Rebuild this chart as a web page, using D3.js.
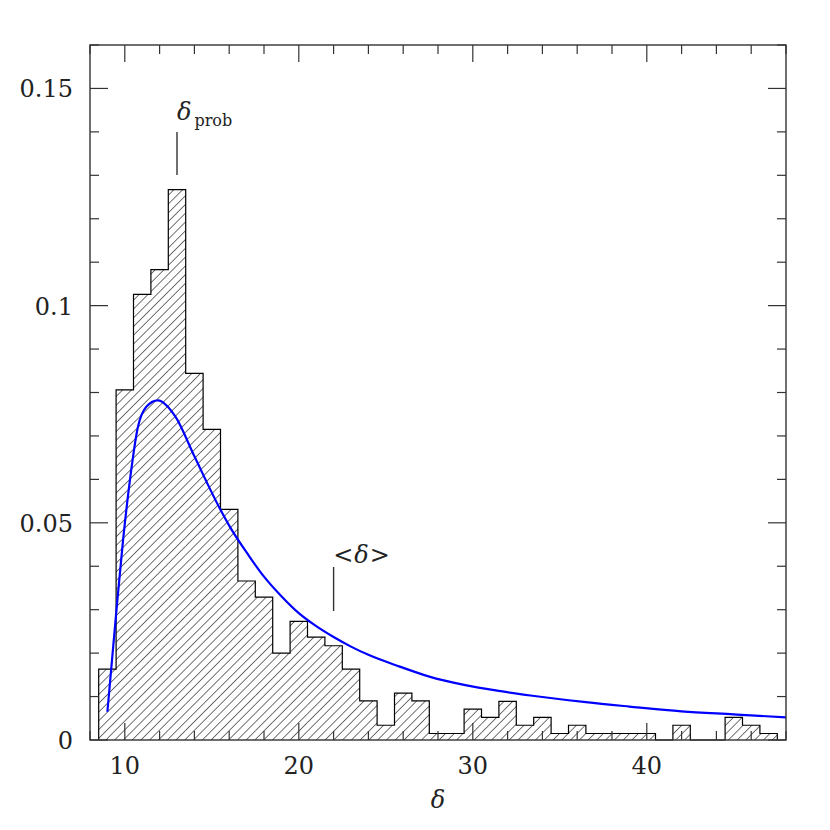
<!DOCTYPE html>
<html>
<head>
<meta charset="utf-8">
<script src="https://cdn.jsdelivr.net/npm/d3@7"></script>
<style>
  body { margin: 0; background: #fff; }
  text { font-family: "DejaVu Serif", serif; fill: #222; }
</style>
</head>
<body>
<div id="chart"></div>
<script>
// histogram bins (centre of each unit-wide bin) and their heights
var binCenters = [9, 10, 11, 12, 13, 14, 15, 16, 17, 18, 19, 20, 21, 22, 23, 24, 25, 26, 27, 28,
    29, 30, 31, 32, 33, 34, 35, 36, 37, 38, 39, 40, 41, 42, 43, 44, 45, 46, 47];
var binValues = [0.0163, 0.0806, 0.1026, 0.1083, 0.1267, 0.0844, 0.0715, 0.0531, 0.0366, 0.0329,
    0.0200, 0.0273, 0.0237, 0.0217, 0.0163, 0.0090, 0.0034, 0.0108, 0.0090, 0.0015,
    0.0015, 0.0071, 0.0052, 0.0089, 0.0034, 0.0052, 0.0015, 0.0034, 0.0015, 0.0015,
    0.0015, 0.0015, 0, 0.0034, 0, 0, 0.0052, 0.0034, 0.0015];

// fitted curve (blue)
var curveX = [9.0, 9.5, 9.9, 10.3, 10.75, 11.25, 11.9, 12.9, 14.0, 15.5, 16.05, 17.1, 18.0, 19,
    20, 21, 22, 23, 24, 25.8, 27.5, 29.5, 31.5, 34, 36.5, 39, 42, 45, 48];
var curveY = [0.0065, 0.029, 0.046, 0.060, 0.072, 0.0768, 0.0782, 0.0745, 0.0653, 0.0530, 0.049,
    0.0426, 0.0376, 0.0331, 0.0292, 0.0262, 0.0237, 0.0215, 0.0196, 0.0169, 0.0146, 0.0127,
    0.0113, 0.0099, 0.0087, 0.0077, 0.0066, 0.0059, 0.0052];

var xTicks = [10, 20, 30, 40];
var yTicks = [0, 0.05, 0.1, 0.15];
var deltaProb = 13, deltaMean = 22;

var margin = { top: 45, right: 44, bottom: 90, left: 90 },
    width = 830 - margin.left - margin.right,
    height = 830 - margin.top - margin.bottom;

var svg = d3.select("#chart")
    .append("svg")
    .attr("width", 830)
    .attr("height", 830)
    .append("g")
    .attr("transform", "translate(" + margin.left + "," + margin.top + ")");

var x = d3.scaleLinear().domain([8, 48]).range([0, width]);
var y = d3.scaleLinear().domain([0, 0.16]).range([height, 0]);

// hatch pattern
var defs = svg.append("defs");
defs.append("pattern")
    .attr("id", "hatch")
    .attr("patternUnits", "userSpaceOnUse")
    .attr("width", 6.2)
    .attr("height", 6.2)
    .attr("patternTransform", "rotate(45)")
    .append("line")
    .attr("x1", 0).attr("y1", 0)
    .attr("x2", 0).attr("y2", 6.2)
    .attr("stroke", "#000")
    .attr("stroke-width", 1.1);

var bins = binCenters.map(function (c, i) {
    return { x0: c - 0.5, x1: c + 0.5, v: binValues[i] };
});

svg.selectAll("rect.bar")
    .data(bins)
    .enter()
    .append("rect")
    .attr("class", "bar")
    .attr("x", function (d) { return x(d.x0); })
    .attr("width", function (d) { return x(d.x1) - x(d.x0); })
    .attr("y", function (d) { return y(d.v); })
    .attr("height", function (d) { return height - y(d.v); })
    .style("fill", "url(#hatch)");

// outline of the histogram as a step line
var steps = [[bins[0].x0, 0]];
bins.forEach(function (d) {
    steps.push([d.x0, d.v]);
    steps.push([d.x1, d.v]);
});
steps.push([bins[bins.length - 1].x1, 0]);
svg.append("path")
    .datum(steps)
    .attr("fill", "none")
    .attr("stroke", "#000")
    .attr("stroke-width", 1.2)
    .attr("d", d3.line()
        .x(function (d) { return x(d[0]); })
        .y(function (d) { return y(d[1]); }));

// blue curve
svg.append("path")
    .datum(curveX.map(function (v, i) { return [v, curveY[i]]; }))
    .attr("fill", "none")
    .attr("stroke", "#0000ff")
    .attr("stroke-width", 2.2)
    .attr("d", d3.line()
        .curve(d3.curveMonotoneX)
        .x(function (d) { return x(d[0]); })
        .y(function (d) { return y(d[1]); }));

// axes: inward ticks on all four sides
var frameColor = "#333";
function xAxis(g, dir) {
    var minor = d3.range(8, 48.1, 2);
    g.selectAll("line.t")
        .data(minor)
        .enter()
        .append("line")
        .attr("x1", function (d) { return x(d); })
        .attr("x2", function (d) { return x(d); })
        .attr("y1", 0)
        .attr("y2", function (d) { return dir * (d % 10 === 0 ? 17 : 9); })
        .attr("stroke", frameColor)
        .attr("stroke-width", 1.2);
}
function yAxis(g, dir) {
    var minor = d3.range(0, 0.1601, 0.01);
    g.selectAll("line.t")
        .data(minor)
        .enter()
        .append("line")
        .attr("y1", function (d) { return y(d); })
        .attr("y2", function (d) { return y(d); })
        .attr("x1", 0)
        .attr("x2", function (d) { return dir * (Math.abs(d * 100 % 5) < 0.01 || Math.abs(d * 100 % 5 - 5) < 0.01 ? 18 : 9); })
        .attr("stroke", frameColor)
        .attr("stroke-width", 1.2);
}
svg.append("g").attr("transform", "translate(0," + height + ")").call(xAxis, -1);
svg.append("g").call(xAxis, 1);
svg.append("g").call(yAxis, 1);
svg.append("g").attr("transform", "translate(" + width + ",0)").call(yAxis, -1);

svg.append("rect")
    .attr("width", width)
    .attr("height", height)
    .attr("fill", "none")
    .attr("stroke", frameColor)
    .attr("stroke-width", 1.4);

// tick labels
svg.selectAll("text.xl")
    .data(xTicks)
    .enter()
    .append("text")
    .attr("x", function (d) { return x(d); })
    .attr("y", height + 34)
    .attr("text-anchor", "middle")
    .style("font-size", "24px")
    .text(function (d) { return d; });

svg.selectAll("text.yl")
    .data(yTicks)
    .enter()
    .append("text")
    .attr("x", -17)
    .attr("y", function (d) { return y(d) + 9; })
    .attr("text-anchor", "end")
    .style("font-size", "24px")
    .text(function (d) { return d; });

// axis title
svg.append("text")
    .attr("x", width / 2)
    .attr("y", height + 68)
    .attr("text-anchor", "middle")
    .style("font-size", "24px")
    .style("font-style", "italic")
    .text("δ");

// markers for delta_prob and <delta>
svg.append("line")
    .attr("x1", x(deltaProb)).attr("x2", x(deltaProb))
    .attr("y1", 87).attr("y2", 130)
    .attr("stroke", "#333").attr("stroke-width", 1.4);
var tp = svg.append("text")
    .attr("x", x(deltaProb))
    .attr("y", 75)
    .style("font-size", "24px");
tp.append("tspan").style("font-style", "italic").text("δ");
tp.append("tspan").attr("dx", 3).attr("dy", 6).style("font-size", "16px").text("prob");

svg.append("line")
    .attr("x1", x(deltaMean)).attr("x2", x(deltaMean))
    .attr("y1", 522).attr("y2", 566)
    .attr("stroke", "#333").attr("stroke-width", 1.4);
var tm = svg.append("text")
    .attr("x", x(deltaMean) + 28)
    .attr("y", 518)
    .attr("text-anchor", "middle")
    .style("font-size", "24px");
tm.append("tspan").text("<");
tm.append("tspan").attr("dx", 1).style("font-style", "italic").text("δ");
tm.append("tspan").attr("dx", 1).text(">");
</script>
</body>
</html>
